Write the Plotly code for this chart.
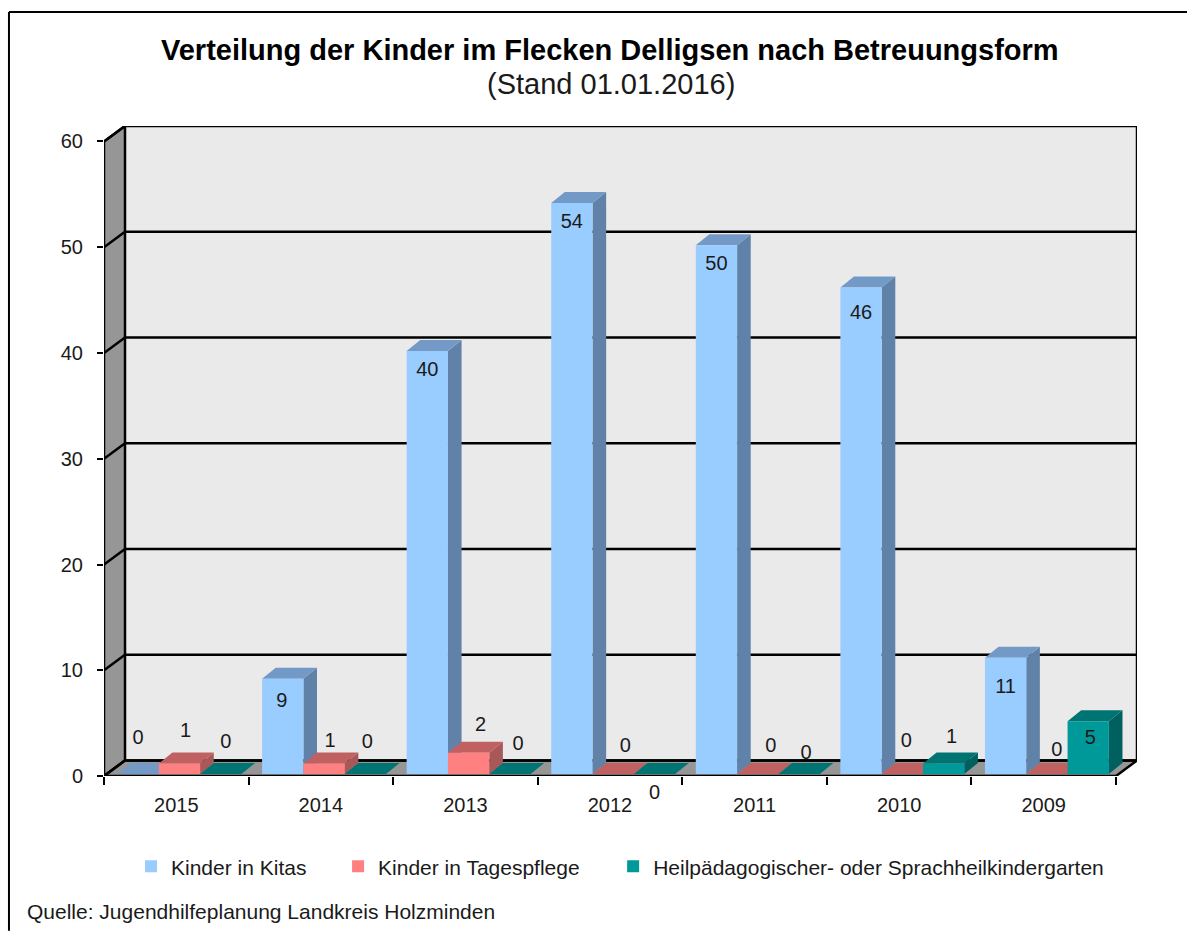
import plotly.graph_objects as go

# ---------- data ----------
years = ["2015", "2014", "2013", "2012", "2011", "2010", "2009"]
kitas = [0, 9, 40, 54, 50, 46, 11]
tagespflege = [1, 1, 2, 0, 0, 0, 0]
heil = [0, 0, 0, 0, 0, 1, 5]
series_names = ["Kinder in Kitas", "Kinder in Tagespflege",
                "Heilpädagogischer- oder Sprachheilkindergarten"]
y_ticks = [0, 10, 20, 30, 40, 50, 60]

# ---------- style ----------
W, H = 1187, 931
L, R, T, B = 104.0, 1136.7, 126.0, 776.3
PX_X = (1115.7 - 104.0) / 7      # pixels per category
PX_Y = (776.3 - 141.5) / 60      # pixels per unit
WALL_DX, WALL_DY = (R - 1115.7) / PX_X, 15.5 / PX_Y
BAR_DX, BAR_DY = 13.6 / PX_X, 11 / PX_Y
BAR_W = 41.3 / PX_X
BAR_START = -58.75 / PX_X
LIFT = 2.0 / PX_Y
FONT = "Liberation Sans"
TXT = "#1a1a1a"
front = ["#99CCFF", "#FF8080", "#009999"]
topc = ["#7399C6", "#C06060", "#007373"]
side = ["#6082A8", "#A85858", "#006060"]
# label nudges in pixels from each bar's top (up is positive), per series per year
nudges = [
    [35, -23, -20, -20, -20, -26, -30],
    [31, 21, 27, 27, 27, 32, 23],
    [31, 31, 29, -18, 20, 25, -18],
]
label_dx = [
    [0, -1, 0, 0, 0, 0, 0],
    [6, 6, 12, 12, 13, 4, 10],
    [5, 2, 8, 0, 7, 8, 2],
]
legend_left = [131, 338, 613]

series = [kitas, tagespflege, heil]
fig = go.Figure()


def poly(xs, ys, fill, line=None, lw=0, xa="x", ya="y"):
    fig.add_trace(go.Scatter(
        x=xs, y=ys, mode="lines", fill="toself", fillcolor=fill,
        line=dict(color=line or fill, width=lw if line else 0),
        hoverinfo="skip", showlegend=False, cliponaxis=False, xaxis=xa, yaxis=ya))


x0, x1 = -0.5, 6.5
# walls and floor
poly([x0 + WALL_DX, x1 + WALL_DX, x1 + WALL_DX, x0 + WALL_DX, x0 + WALL_DX],
     [WALL_DY, WALL_DY, 60 + WALL_DY, 60 + WALL_DY, WALL_DY], "#EAEAEA")
poly([x0, x0 + WALL_DX, x0 + WALL_DX, x0, x0],
     [0, WALL_DY, 60 + WALL_DY, 60, 0], "#969696", "#000000", 2.5)
poly([x0, x1, x1 + WALL_DX, x0 + WALL_DX, x0],
     [0, 0, WALL_DY, WALL_DY, 0], "#969696", "#000000", 2.5)
# gridlines
for v in y_ticks:
    fig.add_trace(go.Scatter(
        x=[x0, x0 + WALL_DX, x1 + WALL_DX], y=[v, v + WALL_DY, v + WALL_DY],
        mode="lines", line=dict(color="#000000", width=2.5),
        hoverinfo="skip", showlegend=False, cliponaxis=False))
fig.add_trace(go.Scatter(
    x=[x1 + WALL_DX, x1 + WALL_DX], y=[WALL_DY, 60 + WALL_DY], mode="lines",
    line=dict(color="#000000", width=2.5), hoverinfo="skip", showlegend=False, cliponaxis=False))

# 3D faces of bars, left to right
for i in range(len(years)):
    for s, vals in enumerate(series):
        a = i + BAR_START + s * BAR_W
        b = a + BAR_W
        v = vals[i] + LIFT
        if vals[i] > 0:
            poly([b, b + BAR_DX, b + BAR_DX, b, b],
                 [LIFT, LIFT + BAR_DY, v + BAR_DY, v, LIFT], side[s])
        poly([a, b, b + BAR_DX, a + BAR_DX, a],
             [v, v, v + BAR_DY, v + BAR_DY, v], topc[s])

# front faces, on the overlay axes so they lie above all side faces
for s, vals in enumerate(series):
    fig.add_trace(go.Bar(
        x=list(range(len(years))), y=vals, base=LIFT, width=BAR_W,
        offset=BAR_START + s * BAR_W, marker=dict(color=front[s], line=dict(width=0)),
        name=series_names[s], hoverinfo="skip", xaxis="x2", yaxis="y2",
        legend="legend" if s == 0 else f"legend{s + 1}"))

# data labels; those falling below the axis have to be annotations
lx, ly, lt, below = [], [], [], []
for s, vals in enumerate(series):
    for i, val in enumerate(vals):
        xp = i + BAR_START + (s + 0.5) * BAR_W + label_dx[s][i] / PX_X
        yp = val + LIFT + nudges[s][i] / PX_Y
        if yp < 0:
            below.append(dict(text=str(val), xref="x2", yref="y2", x=xp, y=val,
                              yshift=nudges[s][i] + LIFT * PX_Y, showarrow=False,
                              font=dict(family=FONT, size=20, color=TXT)))
        else:
            lx.append(xp)
            ly.append(yp)
            lt.append(str(val))
fig.add_trace(go.Scatter(
    x=lx, y=ly, text=lt, mode="text", textposition="middle center",
    textfont=dict(family=FONT, size=20, color=TXT), hoverinfo="skip",
    showlegend=False, cliponaxis=False, xaxis="x2", yaxis="y2"))

xr = [x0, x0 + (R - L) / PX_X]
yr = [0, (B - T) / PX_Y]
frame = dict(type="line", xref="paper", yref="paper", line=dict(color="#000000", width=2))
px = lambda p: (p - L) / (R - L)
py = lambda p: (B - p) / (B - T)


def legend_at(left):
    return dict(orientation="h", x=px(left), xanchor="left", y=py(867), yanchor="middle",
                font=dict(family=FONT, size=21, color=TXT), bgcolor="rgba(0,0,0,0)")


fig.update_layout(
    width=W, height=H, autosize=False,
    margin=dict(l=L, r=W - R, t=T, b=H - B, pad=0),
    paper_bgcolor="#FFFFFF", plot_bgcolor="rgba(0,0,0,0)",
    barmode="overlay",
    font=dict(family=FONT, size=20, color=TXT),
    xaxis=dict(range=xr, tickmode="array", tickvals=list(range(7)), ticktext=years,
               ticks="", showgrid=False, zeroline=False, showline=False,
               ticklabelstandoff=15,
               minor=dict(tickmode="array", tickvals=[i - 0.5 for i in range(8)], ticks="outside",
                          ticklen=8, tickwidth=1.5, tickcolor="#000000", showgrid=False)),
    yaxis=dict(range=yr, tickmode="array", tickvals=y_ticks, ticks="outside", ticklen=6,
               tickwidth=1.5, tickcolor="#000000", showgrid=False, zeroline=False,
               showline=False, ticklabelstandoff=10),
    xaxis2=dict(range=xr, overlaying="x", visible=False),
    yaxis2=dict(range=yr, overlaying="y", visible=False),
    legend=legend_at(legend_left[0]),
    legend2=legend_at(legend_left[1]),
    legend3=legend_at(legend_left[2]),
    shapes=[
        dict(frame, x0=px(9), x1=px(9), y0=py(12), y1=py(931)),
        dict(frame, x0=px(9), x1=px(1187), y0=py(12), y1=py(12)),
    ],
    annotations=below + [
        dict(text="<b>Verteilung der Kinder im Flecken Delligsen nach Betreuungsform</b>",
             xref="paper", yref="paper", x=px(610), y=py(50), showarrow=False,
             xanchor="center", yanchor="middle", font=dict(family=FONT, size=29, color="#000000")),
        dict(text="(Stand 01.01.2016)", xref="paper", yref="paper", x=px(611), y=py(84),
             showarrow=False, xanchor="center", yanchor="middle",
             font=dict(family=FONT, size=29, color=TXT)),
        dict(text="Quelle: Jugendhilfeplanung Landkreis Holzminden", xref="paper", yref="paper",
             x=px(25), y=py(912), showarrow=False, xanchor="left", yanchor="middle",
             font=dict(family=FONT, size=21, color=TXT)),
    ],
)
fig.write_html("out.html", config={"displayModeBar": False},
               post_script="document.body.style.margin='0';")
